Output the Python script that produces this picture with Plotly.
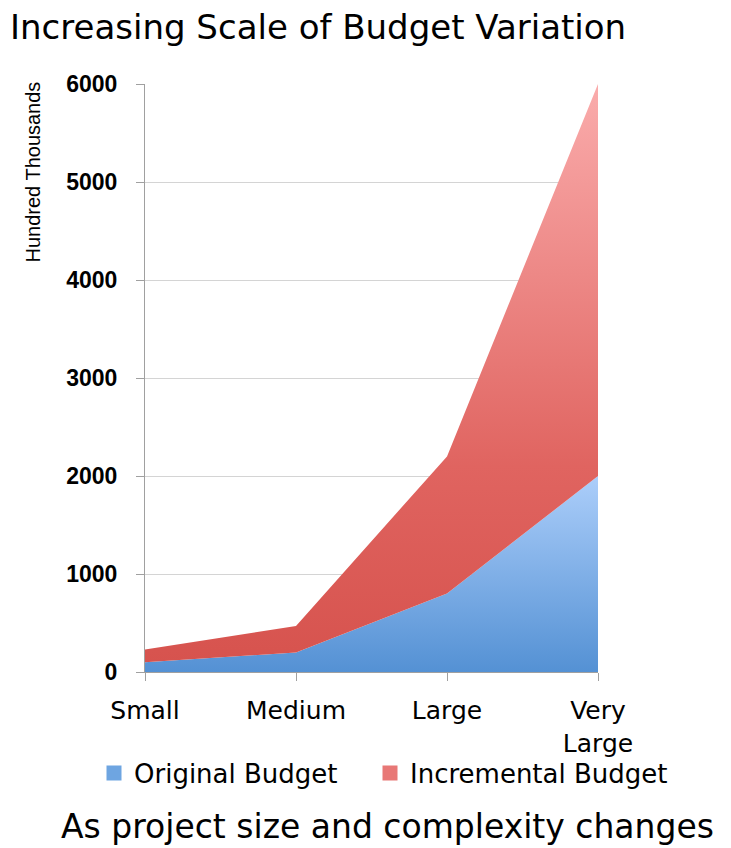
import plotly.graph_objects as go

categories = ["Small", "Medium", "Large", "Very<br>Large"]
original_budget = [100, 200, 800, 2000]
incremental_budget = [130, 270, 1400, 4000]
y_ticks = [0, 1000, 2000, 3000, 4000, 5000, 6000]

x_pos = list(range(len(categories)))

blue_scale = [[0, "rgb(84,145,212)"], [1, "rgb(172,206,250)"]]
red_scale = [[0, "rgb(214,82,77)"], [0.35, "rgb(224,100,96)"], [1, "rgb(250,172,172)"]]

fig = go.Figure()
fig.add_trace(go.Scatter(
    x=x_pos, y=original_budget, name="Original Budget",
    stackgroup="one", mode="none", showlegend=False, legendgroup="orig",
    fillgradient=dict(type="vertical", start=0, stop=2000, colorscale=blue_scale),
    fillcolor="rgb(110,165,225)",
))
fig.add_trace(go.Scatter(
    x=x_pos, y=incremental_budget, name="Incremental Budget",
    stackgroup="one", mode="none", showlegend=False, legendgroup="inc",
    fillgradient=dict(type="vertical", start=0, stop=6000, colorscale=red_scale),
    fillcolor="rgb(225,100,96)",
))
# legend entries (square swatches)
fig.add_trace(go.Scatter(
    x=[None], y=[None], mode="markers", name="Original Budget", legendgroup="orig",
    marker=dict(symbol="square", size=15, color="rgb(110,165,225)"), legend="legend",
))
fig.add_trace(go.Scatter(
    x=[None], y=[None], mode="markers", name="Incremental Budget", legendgroup="inc",
    marker=dict(symbol="square", size=15, color="rgb(232,120,118)"), legend="legend2",
))

font_main = "DejaVu Sans"
legend_common = dict(orientation="h", xref="container", yref="container",
                     xanchor="left", yanchor="middle",
                     font=dict(family=font_main, size=26, color="black"),
                     itemwidth=30, bgcolor="rgba(0,0,0,0)")

fig.update_layout(
    width=731, height=848,
    margin=dict(l=145, r=133, t=84, b=176, autoexpand=False),
    paper_bgcolor="white", plot_bgcolor="white",
    showlegend=True,
    legend=dict(x=94/731, y=1-773/848, **legend_common),
    legend2=dict(x=370/731, y=1-773/848, **legend_common),
    font=dict(family=font_main, color="black"),
)
fig.update_xaxes(
    range=[0, 3], tickmode="array", tickvals=x_pos, ticktext=categories,
    showgrid=False, showline=True, linecolor="#a0a0a0", linewidth=1,
    ticks="outside", ticklen=8, tickcolor="#a0a0a0",
    ticklabelstandoff=8,
    tickfont=dict(family=font_main, size=25, color="black"),
    zeroline=False,
)
fig.update_yaxes(
    range=[0, 6000], tickmode="array", tickvals=y_ticks,
    ticktext=[str(v) for v in y_ticks],
    showgrid=True, gridcolor="#d4d4d4", gridwidth=1,
    showline=True, linecolor="#a0a0a0", linewidth=1,
    ticks="outside", ticklen=8, tickcolor="#a0a0a0",
    ticklabelstandoff=14,
    tickfont=dict(family="Liberation Sans", size=23, color="black", weight="bold"),
    zeroline=False,
)
fig.add_annotation(text="Increasing Scale of Budget Variation", xref="paper", yref="paper",
                   x=-137/453, y=1+(84-27)/588, xanchor="left", yanchor="middle", showarrow=False,
                   font=dict(family=font_main, size=34, color="black"))
fig.add_annotation(text="Hundred Thousands", xref="paper", yref="paper",
                   x=-(145-32)/453, y=1+4/588, xanchor="center", yanchor="top", textangle=-90, showarrow=False,
                   font=dict(family="Liberation Sans", size=20, color="black"))
fig.add_annotation(text="As project size and complexity changes", xref="paper", yref="paper",
                   x=(387-145)/453, y=-(826-672)/588, xanchor="center", yanchor="middle", showarrow=False,
                   font=dict(family=font_main, size=33, color="black"))

fig.write_html("out.html")
